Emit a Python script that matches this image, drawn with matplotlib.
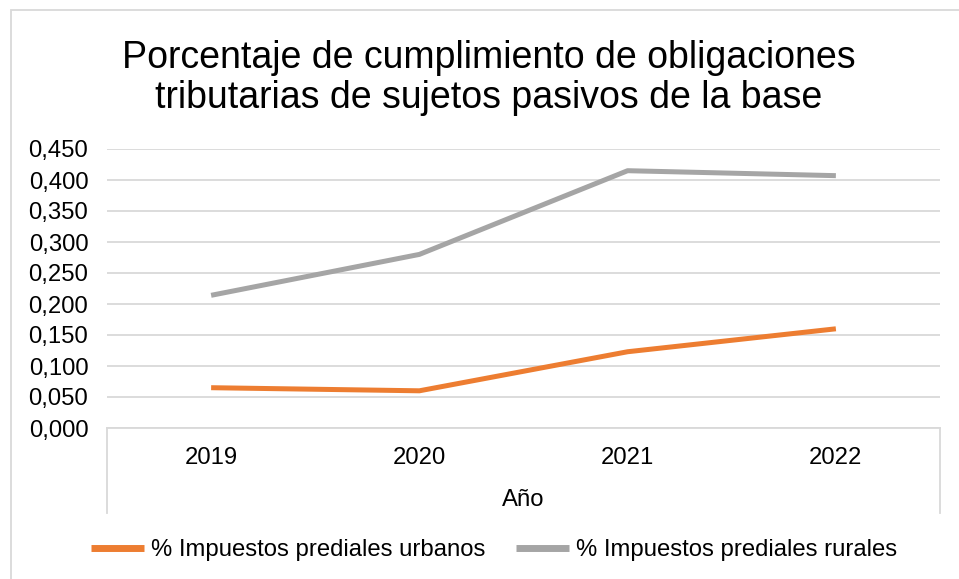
import matplotlib
matplotlib.use("Agg")
import matplotlib.pyplot as plt
from matplotlib.lines import Line2D
from matplotlib.patches import Rectangle

plt.rcParams['font.family'] = ['Liberation Sans', 'DejaVu Sans']

years = ["2019", "2020", "2021", "2022"]
urbanos = [0.065, 0.060, 0.123, 0.160]
rurales = [0.214, 0.280, 0.415, 0.407]
series_names = ["% Impuestos prediales urbanos", "% Impuestos prediales rurales"]
y_ticks = [0.0, 0.05, 0.10, 0.15, 0.20, 0.25, 0.30, 0.35, 0.40, 0.45]
title = "Porcentaje de cumplimiento de obligaciones\ntributarias de sujetos pasivos de la base"
x_label = "Año"

W, H = 959, 579
FS = 17.2
fig = plt.figure(figsize=(W / 100, H / 100), dpi=100)
L, R, T, B = 107, 940, 149, 428
ax = fig.add_axes([L / W, 1 - B / H, (R - L) / W, (B - T) / H])

x = list(range(len(years)))
ax.plot(x, urbanos, color="#ED7D31", lw=3.6, solid_capstyle="butt", zorder=3, label=series_names[0])
ax.plot(x, rurales, color="#A5A5A5", lw=3.6, solid_capstyle="butt", zorder=3, label=series_names[1])

ax.set_xlim(-0.5, len(years) - 0.5)
ax.set_ylim(0, 0.45)
ax.set_yticks(y_ticks)
ax.set_yticklabels([f"{v:.3f}".replace(".", ",") for v in y_ticks])
ax.set_xticks(x)
ax.set_xticklabels(years)
ax.tick_params(axis="y", length=0, pad=13.5, labelsize=FS, labelcolor="#000000")
ax.tick_params(axis="x", length=0, pad=14.0, labelsize=FS, labelcolor="#000000")
for s in ["top", "right", "left"]:
    ax.spines[s].set_visible(False)
ax.spines["bottom"].set_color("#D9D9D9")
ax.spines["bottom"].set_linewidth(1.3)
ax.grid(axis="y", color="#D9D9D9", lw=1.3, zorder=0)
ax.set_axisbelow(True)

# box lines below the category axis
ext = -(513 - B) / (B - T)
for xx in (0, 1):
    ax.add_line(Line2D([xx, xx], [0, ext], transform=ax.transAxes, color="#D9D9D9",
                       lw=1.3, clip_on=False))

fig.text(489 / W, 1 - 78 / H, title, ha="center", va="center", fontsize=27,
         linespacing=1.15, color="#000000")
fig.text(523 / W, 1 - 500 / H, x_label, ha="center", va="center", fontsize=FS, color="#000000")

leg = fig.legend(loc="center", bbox_to_anchor=(494 / W, 1 - 550 / H), ncol=2, frameon=False,
                 fontsize=FS, handlelength=2.2, handletextpad=0.3, columnspacing=1.3)
for h in leg.get_lines():
    h.set_linewidth(5)

fig.patches.append(Rectangle((11 / W, -0.1), 1.2, 1 - 10 / H + 0.1, transform=fig.transFigure,
                             fill=False, edgecolor="#D9D9D9", lw=1.3))

fig.savefig("out.png", dpi=100)
